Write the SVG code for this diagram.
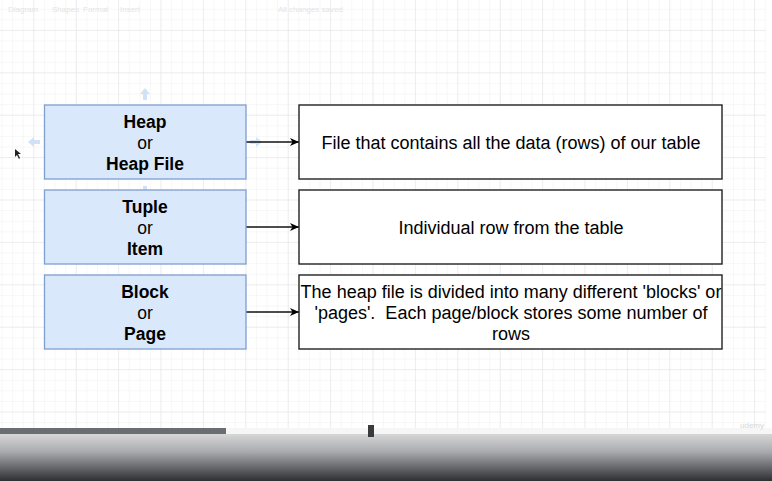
<svg xmlns="http://www.w3.org/2000/svg" width="772" height="481" viewBox="0 0 772 481">
  <style>
    .term rect { fill: #dae8fc; stroke: #7f9fcf; stroke-width: 1.3; }
    .term text { font-family: "Liberation Sans", Arial, sans-serif; font-size: 17.5px; text-anchor: middle; fill: #000; }
    .term .b { font-weight: bold; }
    .def rect { fill: #ffffff; stroke: #222; stroke-width: 1.4; }
    .def text { font-family: "Liberation Sans", Arial, sans-serif; font-size: 18px; text-anchor: middle; fill: #000; }
    .conn line { stroke: #111; stroke-width: 1.3; marker-end: url(#ah); }
    .hint { fill: #cfe2f7; }
  </style>
  <defs>
    <marker id="ah" markerWidth="10" markerHeight="10" refX="9" refY="5" orient="auto" markerUnits="userSpaceOnUse">
      <path d="M0,1 L9,5 L0,9 L2.5,5 Z" fill="#000"/>
    </marker>
    <pattern id="minor" width="10.6" height="10.6" patternUnits="userSpaceOnUse" x="34.3" y="30.9">
      <path d="M10.6,0 V10.6 M0,10.6 H10.6" stroke="#efefef" stroke-width="1" fill="none"/>
    </pattern>
    <pattern id="major" width="42.4" height="42.4" patternUnits="userSpaceOnUse" x="34.3" y="30.9">
      <path d="M42.4,0 V42.4 M0,42.4 H42.4" stroke="#e3e3e3" stroke-width="1" fill="none"/>
    </pattern>
    <linearGradient id="fade" x1="0" y1="0" x2="0" y2="1">
      <stop offset="0" stop-color="#e6e6e6"/>
      <stop offset="0.45" stop-color="#a9aaad"/>
      <stop offset="1" stop-color="#2e2f33"/>
    </linearGradient>
  </defs>

  <rect x="0" y="0" width="772" height="481" fill="#ffffff"/>
  <rect x="0" y="0" width="766" height="481" fill="url(#minor)"/>
  <rect x="0" y="0" width="766" height="481" fill="url(#major)"/>

  <!-- faint toolbar -->
  <g font-family="Liberation Sans, Arial, sans-serif" font-size="8px" fill="#e4e4e4">
    <text x="8" y="12">Diagram</text>
    <text x="52" y="12">Shapes</text>
    <text x="83" y="12">Format</text>
    <text x="120" y="12">Insert</text>
    <text x="278" y="12">All changes saved</text>
  </g>

  <!-- selection hints around first node -->
  <g id="hints">
    <path class="hint" d="M145,88 L150,94 L147,94 L147,100 L143,100 L143,94 L140,94 Z"/>
    <path class="hint" d="M145,198 L150,192 L147,192 L147,186 L143,186 L143,192 L140,192 Z"/>
    <path class="hint" d="M28,142 L34,137 L34,140 L40,140 L40,144 L34,144 L34,147 Z"/>
    <path class="hint" d="M262,142 L256,137 L256,140 L250,140 L250,144 L256,144 L256,147 Z"/>
  </g>

  <!-- connectors -->
  <g id="connectors" class="conn">
    <line x1="246" y1="142" x2="299" y2="142"/>
    <line x1="246" y1="227" x2="299" y2="227"/>
    <line x1="246" y1="312" x2="299" y2="312"/>
  </g>

  <g id="heap" class="term">
    <rect x="44.5" y="105" width="201.5" height="74"/>
    <text class="b" x="145" y="128">Heap</text>
    <text x="145" y="149">or</text>
    <text class="b" x="145" y="170">Heap File</text>
  </g>
  <g id="tuple" class="term">
    <rect x="44.5" y="190" width="201.5" height="74"/>
    <text class="b" x="145" y="213">Tuple</text>
    <text x="145" y="234">or</text>
    <text class="b" x="145" y="255">Item</text>
  </g>
  <g id="block" class="term">
    <rect x="44.5" y="275" width="201.5" height="74"/>
    <text class="b" x="145" y="298">Block</text>
    <text x="145" y="319">or</text>
    <text class="b" x="145" y="340">Page</text>
  </g>

  <g id="def-heap" class="def">
    <rect x="299" y="105" width="423" height="74"/>
    <text x="511" y="149">File that contains all the data (rows) of our table</text>
  </g>
  <g id="def-tuple" class="def">
    <rect x="299" y="190" width="423" height="74"/>
    <text x="511" y="234">Individual row from the table</text>
  </g>
  <g id="def-block" class="def">
    <rect x="299" y="275" width="423" height="74"/>
    <text x="511" y="298">The heap file is divided into many different 'blocks' or</text>
    <text x="511" y="319" xml:space="preserve">'pages'.  Each page/block stores some number of</text>
    <text x="511" y="340">rows</text>
  </g>

  <!-- cursor -->
  <path d="M15,149 L15,157 L17,155 L19,159 L20,158 L18,154 L21,154 Z" fill="#222"/>

  <!-- video overlay -->
  <rect x="0" y="428" width="772" height="53" fill="url(#fade)"/>
  <rect x="0" y="428" width="772" height="6" fill="#f6f6f6"/>
  <rect x="0" y="428" width="226" height="6" fill="#6a6d71"/>
  <rect x="368" y="425" width="6" height="12" fill="#3a3b3e"/>
  <text x="740" y="428" font-family="Liberation Sans, Arial, sans-serif" font-size="8px" fill="#d6d6d6">udemy</text>
</svg>
